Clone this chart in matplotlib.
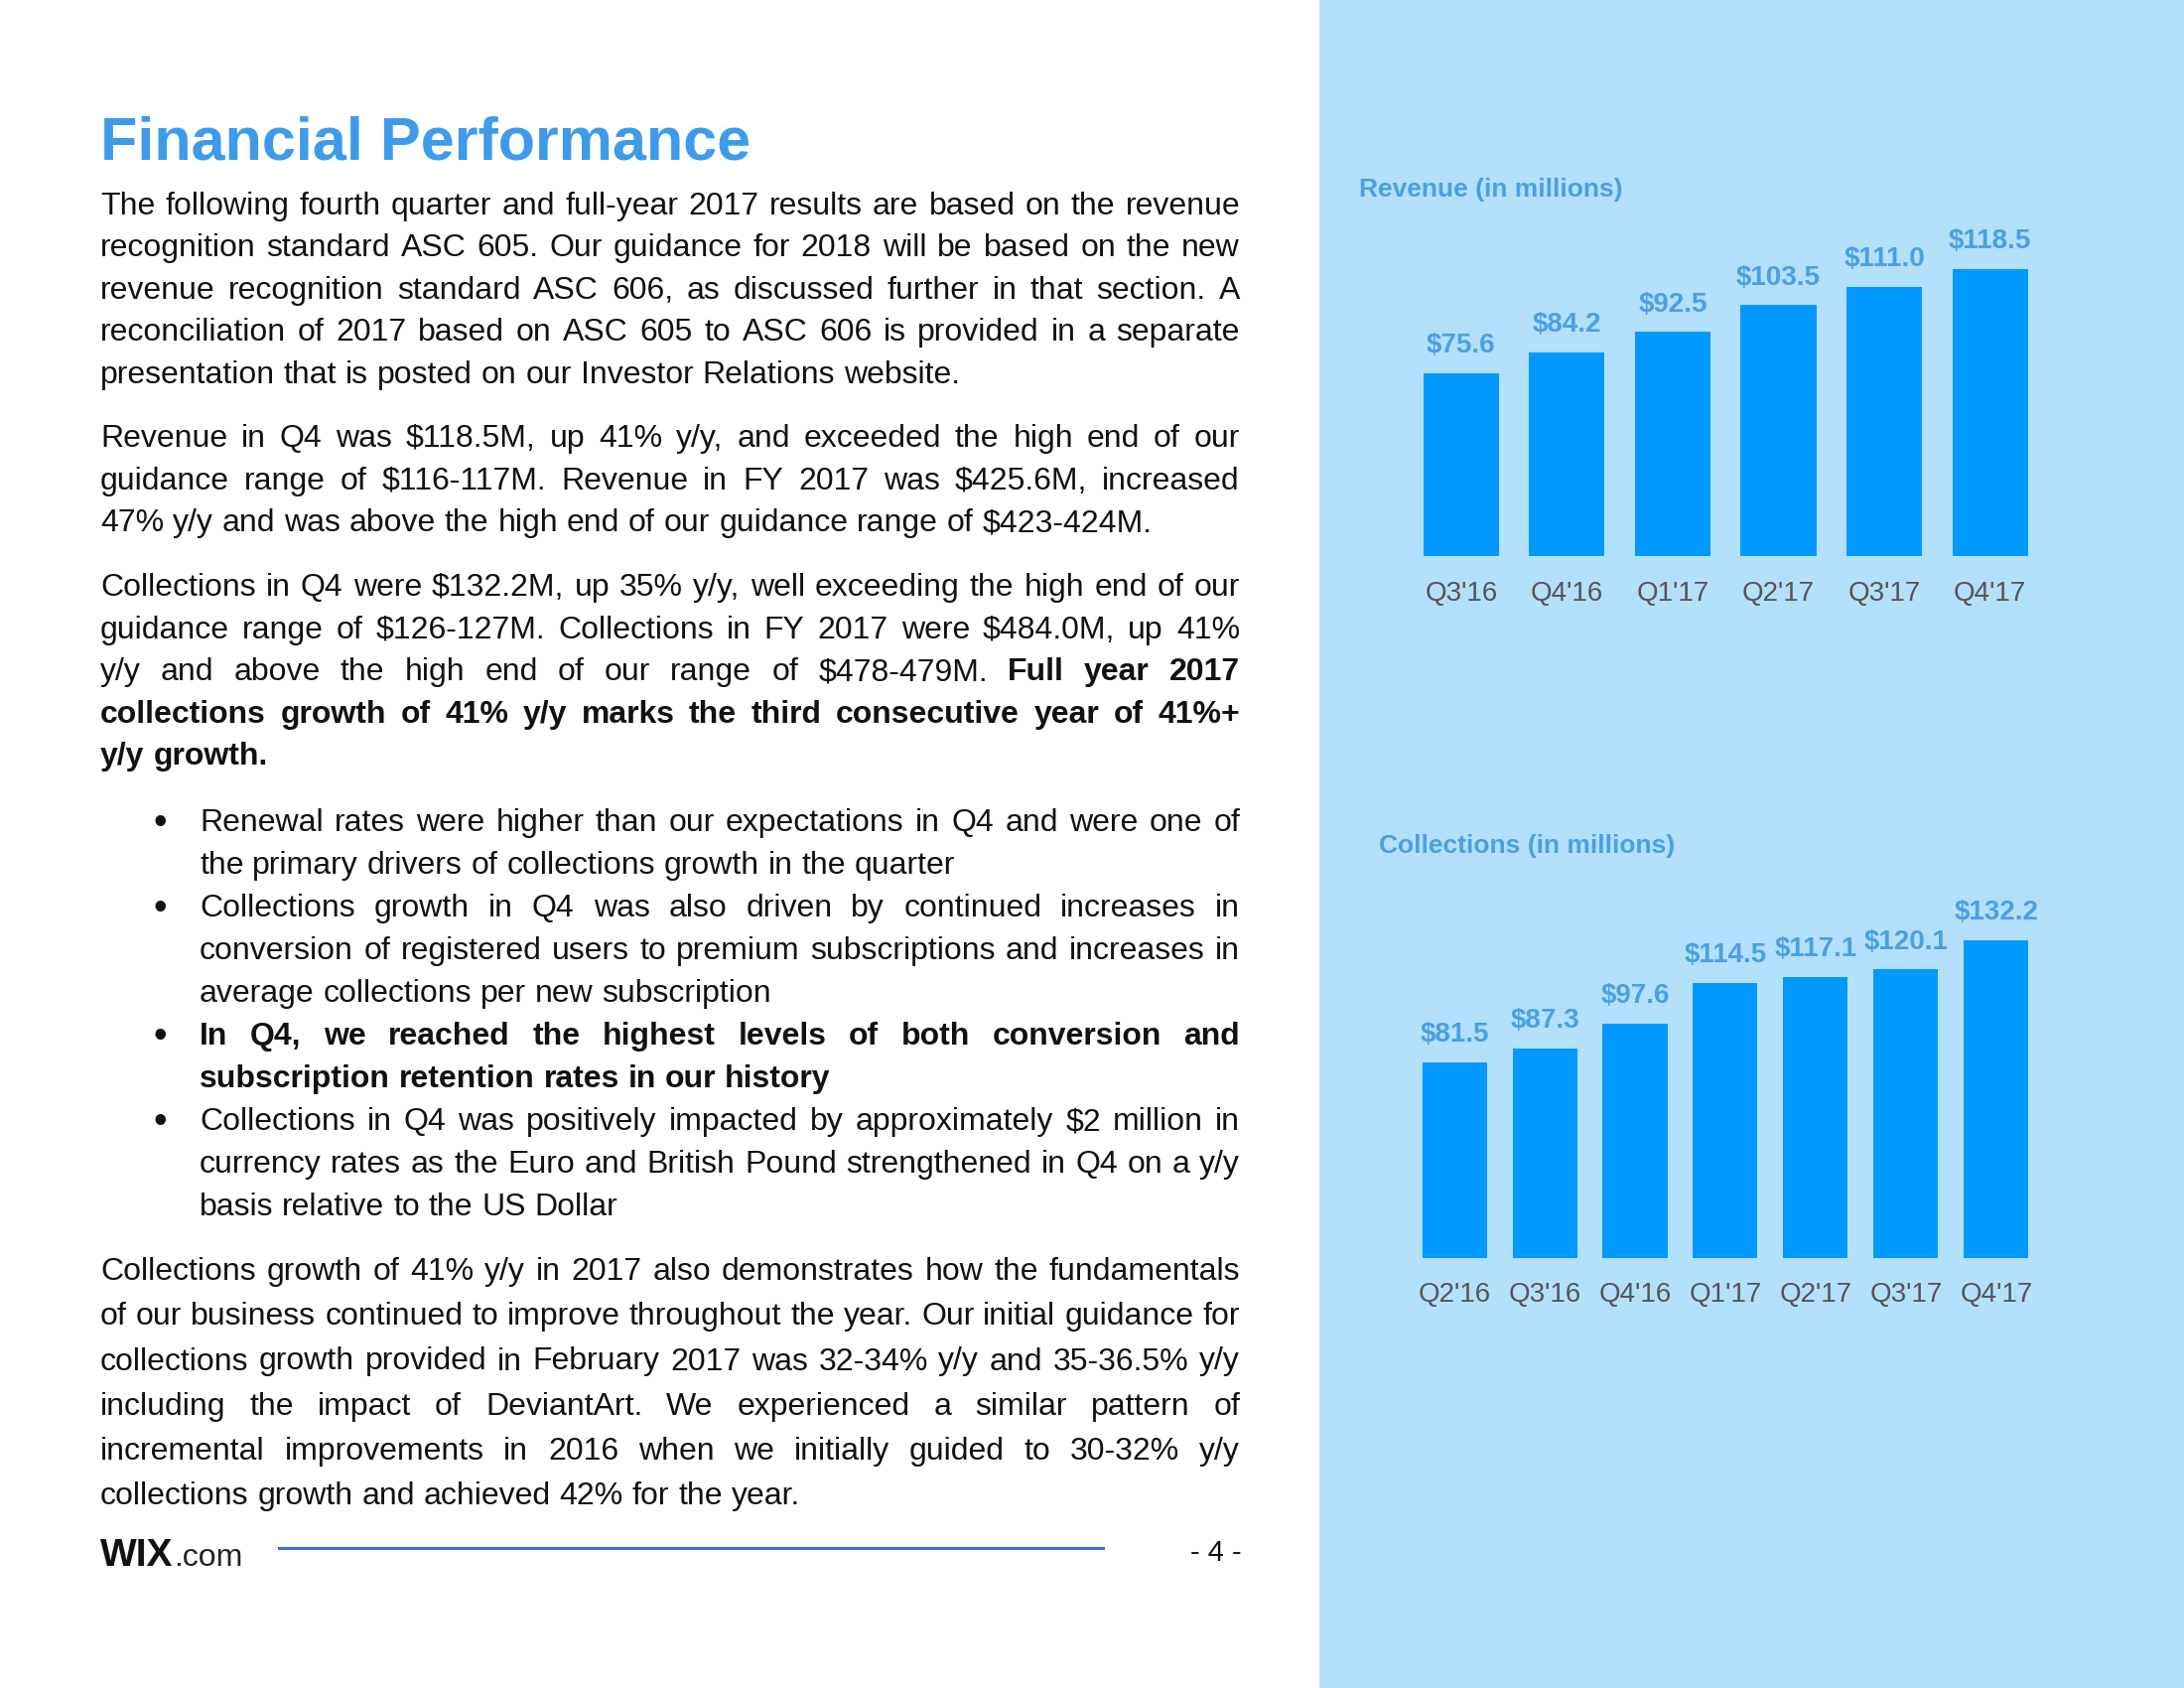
import matplotlib
matplotlib.use("Agg")
import matplotlib.pyplot as plt
from matplotlib.patches import Rectangle

# chart data
rev_quarters = ["Q3'16", "Q4'16", "Q1'17", "Q2'17", "Q3'17", "Q4'17"]
rev_values = [75.6, 84.2, 92.5, 103.5, 111.0, 118.5]
col_quarters = ["Q2'16", "Q3'16", "Q4'16", "Q1'17", "Q2'17", "Q3'17", "Q4'17"]
col_values = [81.5, 87.3, 97.6, 114.5, 117.1, 120.1, 132.2]

# page text ("**" toggles bold)
para_1 = [
    "The following fourth quarter and full-year 2017 results are based on the revenue",
    "recognition standard ASC 605. Our guidance for 2018 will be based on the new",
    "revenue recognition standard ASC 606, as discussed further in that section. A",
    "reconciliation of 2017 based on ASC 605 to ASC 606 is provided in a separate",
    "presentation that is posted on our Investor Relations website.",
]
para_2 = [
    "Revenue in Q4 was $118.5M, up 41% y/y, and exceeded the high end of our",
    "guidance range of $116-117M.  Revenue in FY 2017 was $425.6M, increased",
    "47% y/y and was above the high end of our guidance range of $423-424M.",
]
para_3 = [
    "Collections in Q4 were $132.2M, up 35% y/y, well exceeding the high end of our",
    "guidance range of $126-127M. Collections in FY 2017 were $484.0M, up 41%",
    "y/y and above the high end of our range of $478-479M. **Full year 2017**",
    "**collections growth of 41% y/y marks the third consecutive year of 41%+**",
    "**y/y growth.**",
]
bullets = [
    ["Renewal rates were higher than our expectations in Q4 and were one of",
     "the primary drivers of collections growth in the quarter"],
    ["Collections growth in Q4 was also driven by continued increases in",
     "conversion of registered users to premium subscriptions and increases in",
     "average collections per new subscription"],
    ["**In Q4, we reached the highest levels of both conversion and**",
     "**subscription retention rates in our history**"],
    ["Collections in Q4 was positively impacted by approximately $2 million in",
     "currency rates as the Euro and British Pound strengthened in Q4 on a y/y",
     "basis relative to the US Dollar"],
]
para_4 = [
    "Collections growth of 41% y/y in 2017 also demonstrates how the fundamentals",
    "of our business continued to improve throughout the year. Our initial guidance for",
    "collections growth provided in February 2017 was 32-34% y/y and 35-36.5% y/y",
    "including the impact of DeviantArt. We experienced a similar pattern of",
    "incremental improvements in 2016 when we initially guided to 30-32% y/y",
    "collections growth and achieved 42% for the year.",
]

W, H = 2200, 1700
PANEL = "#b3e0fa"
BAR = "#0099ff"
LABEL_BLUE = "#4a9fe6"
TITLE_BLUE = "#3d9be9"
INK = "#111111"
TICK = "#555555"
BODY = 23

plt.rcParams["font.family"] = ["Liberation Sans", "DejaVu Sans"]

fig = plt.figure(figsize=(W / 100, H / 100), dpi=100)
page = fig.add_axes([0, 0, 1, 1])
page.set_xlim(0, W)
page.set_ylim(H, 0)
page.axis("off")
page.add_patch(Rectangle((1329, 0), W - 1329, H, color=PANEL, lw=0))
renderer = fig.canvas.get_renderer()


def width_of(t):
    return t.get_window_extent(renderer).width


def space_width(weight):
    a = page.text(0, 0, "x x", fontsize=BODY, weight=weight)
    b = page.text(0, 0, "xx", fontsize=BODY, weight=weight)
    w = width_of(a) - width_of(b)
    a.remove()
    b.remove()
    return w


SPACE = {"normal": space_width("normal"), "bold": space_width("bold")}


def words_of(line):
    out = []
    for i, chunk in enumerate(line.split("**")):
        weight = "bold" if i % 2 else "normal"
        out += [(w, weight) for w in chunk.split()]
    return out


def draw_line(line, x0, x1, baseline, justify):
    words = words_of(line)
    texts = [page.text(0, baseline, w, fontsize=BODY, weight=wt, color=INK,
                       va="baseline", parse_math=False) for w, wt in words]
    widths = [width_of(t) for t in texts]
    gap = None
    if justify and len(texts) > 1:
        gap = (x1 - x0 - sum(widths)) / (len(texts) - 1)
    x = x0
    for t, w, (_, wt) in zip(texts, widths, words):
        t.set_x(x)
        x += w + (gap if gap is not None else SPACE[wt])


def draw_block(lines, x0, first, step, x1=1249):
    for i, line in enumerate(lines):
        draw_line(line, x0, x1, first + i * step + 11, i < len(lines) - 1)


# title + body
page.text(101, 160, "Financial Performance", fontsize=44, weight="bold",
          color=TITLE_BLUE, va="baseline")
draw_block(para_1, 101, 204.8, 42.5)
draw_block(para_2, 101, 439.1, 42.5)
draw_block(para_3, 101, 589.3, 42.4)

y = 826.4
step = 43.0
for item in bullets:
    page.text(161, y + 14, "\u2022", fontsize=28, color=INK, ha="center",
              va="baseline")
    draw_block(item, 201, y, step)
    y += step * len(item)

draw_block(para_4, 101, 1278.1, 45.2)


def bar_panel(left, top, right, bottom, cats, vals, ymax):
    ax = fig.add_axes([left / W, 1 - bottom / H, (right - left) / W,
                       (bottom - top) / H])
    ax.set_facecolor("none")
    ax.bar(range(len(vals)), vals, width=0.715, color=BAR)
    ax.set_xlim(-0.5, len(vals) - 0.5)
    ax.set_ylim(0, ymax)
    for s in ax.spines.values():
        s.set_visible(False)
    ax.set_yticks([])
    ax.set_xticks(range(len(cats)), cats)
    ax.tick_params(axis="x", length=0, pad=27, labelsize=20, labelcolor=TICK)
    for lab in ax.get_xticklabels():
        lab.set_va("center")
    for i, v in enumerate(vals):
        ax.annotate(f"${v:.1f}", (i, v), xytext=(0, 20),
                    textcoords="offset points", ha="center", va="center",
                    fontsize=20, weight="bold", color=LABEL_BLUE,
                    parse_math=False)
    return ax


bar_panel(1418.5, 560 - 130 * 2.44, 2058, 560, rev_quarters, rev_values, 130)
bar_panel(1419.6, 1267 - 145 * 2.42, 2056.3, 1267, col_quarters, col_values, 145)

page.text(1369, 191, "Revenue (in millions)", fontsize=19, weight="bold",
          color=LABEL_BLUE, va="center")
page.text(1389, 852, "Collections (in millions)", fontsize=19, weight="bold",
          color=LABEL_BLUE, va="center")

# footer
logo = page.text(101, 1577, "WIX", fontsize=28, weight="bold", color="#111111",
                 va="baseline",
                 family=["Liberation Sans Narrow", "Liberation Sans"])
page.text(101 + width_of(logo) + 1, 1577, ".com", fontsize=23, color="#222222",
          va="baseline",
          family=["Liberation Sans Narrow", "Liberation Sans"])
page.plot([281, 1111], [1559, 1559], color="#3b6be0", lw=2.2)
page.text(1225, 1564, "- 4 -", fontsize=21, color=INK, ha="center", va="center")

fig.savefig("out.png", dpi=100)
